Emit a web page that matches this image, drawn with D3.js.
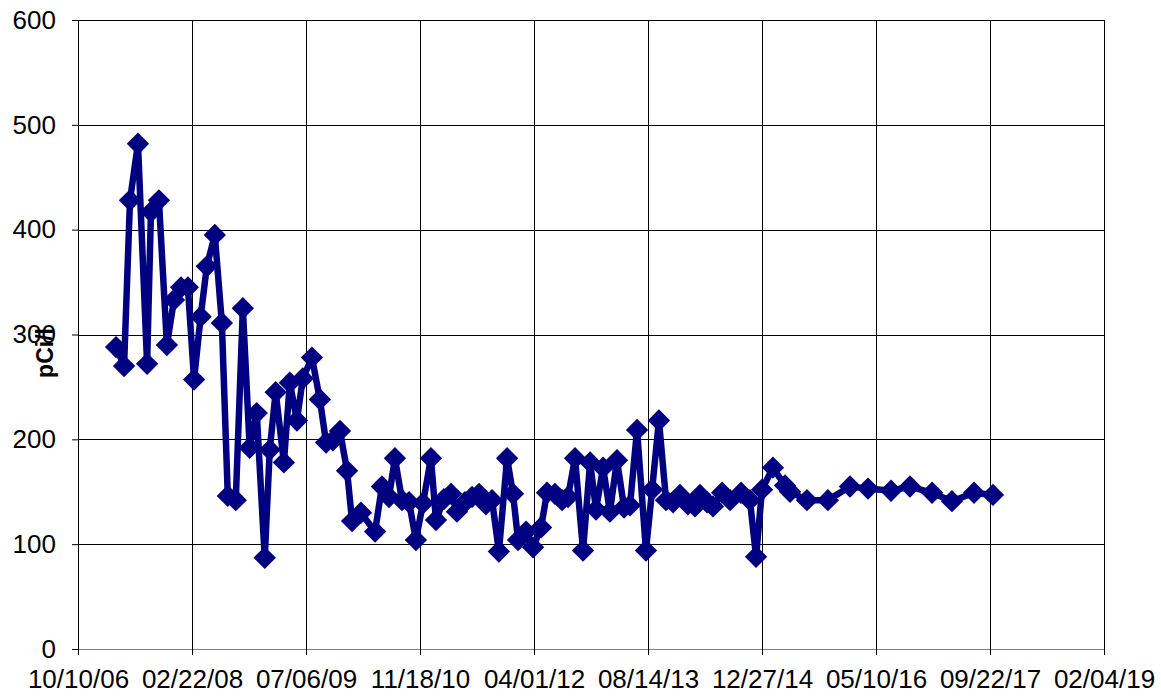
<!DOCTYPE html>
<html>
<head>
<meta charset="utf-8">
<script src="https://cdn.jsdelivr.net/npm/d3@7"></script>
<style>
html,body{margin:0;padding:0;background:#fff;}
svg{display:block;}
text{font-family:"Liberation Sans", Arial, sans-serif;}
</style>
</head>
<body>
<svg id="chart" width="1161" height="696"></svg>
<script>
const dates = ["2007-03-26","2007-04-30","2007-05-26","2007-06-30","2007-08-09","2007-08-26","2007-09-30","2007-11-04","2007-12-05","2008-01-05",
"2008-02-04","2008-03-02","2008-03-31","2008-04-27","2008-06-01","2008-07-02","2008-07-28","2008-09-01","2008-10-02","2008-11-01",
"2008-12-02","2009-01-06","2009-01-28","2009-02-23","2009-03-31","2009-04-26","2009-05-27","2009-06-22","2009-08-01","2009-09-05",
"2009-10-02","2009-11-01","2009-12-02","2010-01-02","2010-01-24","2010-03-04","2010-05-05","2010-06-04","2010-07-05","2010-07-31",
"2010-08-31","2010-10-01","2010-10-31","2010-12-01","2011-01-05","2011-01-27","2011-03-03","2011-04-03","2011-04-29","2011-06-03",
"2011-07-04","2011-08-04","2011-09-03","2011-09-30","2011-10-30","2011-12-05","2011-12-31","2012-01-22","2012-02-26","2012-03-28",
"2012-05-02","2012-05-28","2012-07-02","2012-08-02","2012-08-28","2012-09-28","2012-11-02","2012-12-03","2012-12-29","2013-01-29",
"2013-02-28","2013-03-31","2013-05-01","2013-05-27","2013-06-27","2013-08-05","2013-09-01","2013-10-01","2013-11-01","2013-12-02",
"2014-01-01","2014-02-05","2014-03-08","2014-03-30","2014-04-30","2014-05-26","2014-07-05","2014-08-09","2014-09-26","2014-11-04",
"2014-12-01","2014-12-27","2015-02-13","2015-04-07","2015-04-29","2015-07-12","2015-10-12","2016-01-17","2016-04-05","2016-07-15",
"2016-10-06","2017-01-11","2017-04-08","2017-07-14","2017-10-05"];
const values = [288,270,428,482,272,417,428,290,333,345,
345,257,317,365,395,311,146,142,325,192,
225,87,190,245,178,254,218,258,278,238,
197,199,208,170,122,130,112,155,145,182,
142,140,104,139,182,123,143,148,131,140,
145,148,138,142,93,182,148,104,112,97,
116,149,148,142,145,182,94,178,133,173,
131,180,135,137,209,94,152,218,142,140,
147,138,136,147,140,136,149,142,149,142,
88,152,173,156,150,142,142,155,153,151,
155,149,141,149,147];
const xTickLabels = ["10/10/06","02/22/08","07/06/09","11/18/10","04/01/12","08/14/13","12/27/14","05/10/16","09/22/17","02/04/19"];
const yTicks = [0,100,200,300,400,500,600];
const yLabel = "pCi/l";

(function(){
const parse = d3.utcParse("%Y-%m-%d");
const tickParse = d3.utcParse("%m/%d/%y");
const data = dates.map((d,i)=>({date:parse(d), value:values[i]}));
const tickDates = xTickLabels.map(t=>tickParse(t));
const fmt = d3.utcFormat("%m/%d/%y");

const svg = d3.select("#chart");
const L=78, R=1104, T=20, B=649;
const x = d3.scaleUtc().domain([tickDates[0], tickDates[tickDates.length-1]]).range([L,R]);
const y = d3.scaleLinear().domain([0,600]).range([B,T]);

// gridlines
const g = svg.append("g").attr("shape-rendering","crispEdges");
g.selectAll("line.h").data(yTicks.filter(v=>v>0)).enter().append("line")
  .attr("x1",L).attr("x2",R).attr("y1",d=>Math.round(y(d))+0.5).attr("y2",d=>Math.round(y(d))+0.5)
  .attr("stroke","#000").attr("stroke-width",1);
g.selectAll("line.v").data(tickDates.slice(1)).enter().append("line")
  .attr("y1",T).attr("y2",B).attr("x1",d=>Math.round(x(d))+0.5).attr("x2",d=>Math.round(x(d))+0.5)
  .attr("stroke","#000").attr("stroke-width",1);

// axes
const xAxis = d3.axisBottom(x).tickValues(tickDates).tickFormat(fmt).tickSize(6).tickSizeOuter(0);
const yAxis = d3.axisLeft(y).tickValues(yTicks).tickSize(6).tickSizeOuter(0);
const gx = svg.append("g").attr("transform",`translate(0,${B})`).call(xAxis);
const gy = svg.append("g").attr("transform",`translate(${L},0)`).call(yAxis);
gx.select(".domain").attr("stroke","#808080");
gx.selectAll(".tick line").attr("stroke","#000");
gx.selectAll("text").attr("font-size","26px").attr("fill","#000").attr("dy","1.17em")
  .attr("font-family","Liberation Sans, Arial, sans-serif");
gy.select(".domain").attr("stroke","#000");
gy.selectAll(".tick line").attr("stroke","#000");
gy.selectAll("text").attr("font-size","26px").attr("fill","#000").attr("x",-22)
  .attr("font-family","Liberation Sans, Arial, sans-serif");

// y label
svg.append("text").attr("transform","translate(53,353) rotate(-90)")
  .attr("text-anchor","middle").attr("font-size","23px").attr("font-weight","bold")
  .attr("fill","#000").text(yLabel);

// line
const line = d3.line().x(d=>x(d.date)).y(d=>y(d.value));
svg.append("path").datum(data).attr("d",line).attr("fill","none")
  .attr("stroke","#000080").attr("stroke-width",6.5).attr("stroke-linejoin","miter").attr("stroke-miterlimit",2);

// markers
const sym = d3.symbol().type(d3.symbolSquare).size(250);
svg.selectAll("path.m").data(data).enter().append("path")
  .attr("d",sym).attr("fill","#000080")
  .attr("transform",d=>`translate(${x(d.date)},${y(d.value)}) rotate(45)`);
})();
</script>
</body>
</html>
